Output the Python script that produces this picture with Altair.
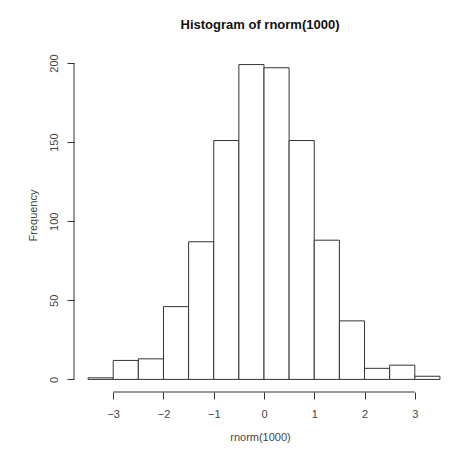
import altair as alt
import pandas as pd

# Histogram data (bin edges and counts)
bin_start = [-3.5, -3.0, -2.5, -2.0, -1.5, -1.0, -0.5, 0.0, 0.5, 1.0, 1.5, 2.0, 2.5, 3.0]
bin_end = [-3.0, -2.5, -2.0, -1.5, -1.0, -0.5, 0.0, 0.5, 1.0, 1.5, 2.0, 2.5, 3.0, 3.5]
counts = [1, 12, 13, 46, 87, 151, 199, 197, 151, 88, 37, 7, 9, 2]

x_ticks = [-3, -2, -1, 0, 1, 2, 3]
y_ticks = [0, 50, 100, 150, 200]

# R-style 4% axis extension
xmin, xmax = min(bin_start), max(bin_end)
ymin, ymax = 0, max(counts)
xpad = (xmax - xmin) * 0.04
ypad = (ymax - ymin) * 0.04
FULL_W = 380
W, H = 372, 340
x_lo = xmin - xpad
x_hi = x_lo + (xmax + xpad - x_lo) * W / FULL_W  # right edge trimmed to fit the window
xdom = [x_lo, x_hi]
ydom = [ymin - ypad, ymax + ypad]

FONT = "Liberation Sans"
LINE = "#333333"
TEXT = "#444444"

df = pd.DataFrame({"start": bin_start, "end": bin_end, "count": counts, "base": [0] * len(counts)})

xscale = alt.Scale(domain=xdom, nice=False, zero=False)
yscale = alt.Scale(domain=ydom, nice=False, zero=False)

bars = alt.Chart(df).mark_rect(fill="white", stroke=LINE, strokeWidth=1).encode(
    x=alt.X("start:Q", scale=xscale,
            axis=alt.Axis(values=x_ticks, domain=False, grid=False, tickSize=7, tickColor=LINE,
                          labelFont=FONT, labelFontSize=11, labelColor=TEXT, labelPadding=9,
                          labelFlush=False,
                          title="rnorm(1000)", titleFont=FONT, titleFontSize=11, titleFontWeight="normal",
                          titleColor=TEXT, titleY=45, titleBaseline="middle")),
    x2="end:Q",
    y=alt.Y("count:Q", scale=yscale,
            axis=alt.Axis(values=y_ticks, domain=False, grid=False, tickSize=7, tickColor=LINE,
                          labelFont=FONT, labelFontSize=11, labelColor=TEXT, labelAngle=-90,
                          labelAlign="center", labelBaseline="bottom", labelPadding=8,
                          labelFlush=False,
                          title="Frequency", titleFont=FONT, titleFontSize=11, titleFontWeight="normal",
                          titleColor=TEXT, titleAngle=-90, titleX=-41, titleY=163,
                          titleAlign="center", titleBaseline="middle")),
    y2="base:Q",
)

yaxis_df = pd.DataFrame({"lo": [min(y_ticks)], "hi": [max(y_ticks)]})
yaxis_line = alt.Chart(yaxis_df).mark_rule(color=LINE, strokeWidth=1).encode(
    x=alt.value(0),
    y=alt.Y("lo:Q", scale=yscale),
    y2="hi:Q",
)

xaxis_df = pd.DataFrame({"lo": [min(x_ticks)], "hi": [max(x_ticks)]})
xaxis_line = alt.Chart(xaxis_df).mark_rule(color=LINE, strokeWidth=1).encode(
    y=alt.value(H),
    x=alt.X("lo:Q", scale=xscale),
    x2="hi:Q",
)

chart = alt.layer(bars, yaxis_line, xaxis_line).properties(
    width=W,
    height=H,
    title=alt.TitleParams("Histogram of rnorm(1000)", font=FONT, fontSize=13, fontWeight="bold",
                          color="#111111", anchor="middle", offset=20),
    autosize=alt.AutoSizeParams(type="none"),
    padding={"left": 66, "top": 44, "right": 0, "bottom": 51},
    background="white",
).configure_view(stroke=None)

chart.save("out.html", embed_options={"renderer": "svg", "actions": False})
